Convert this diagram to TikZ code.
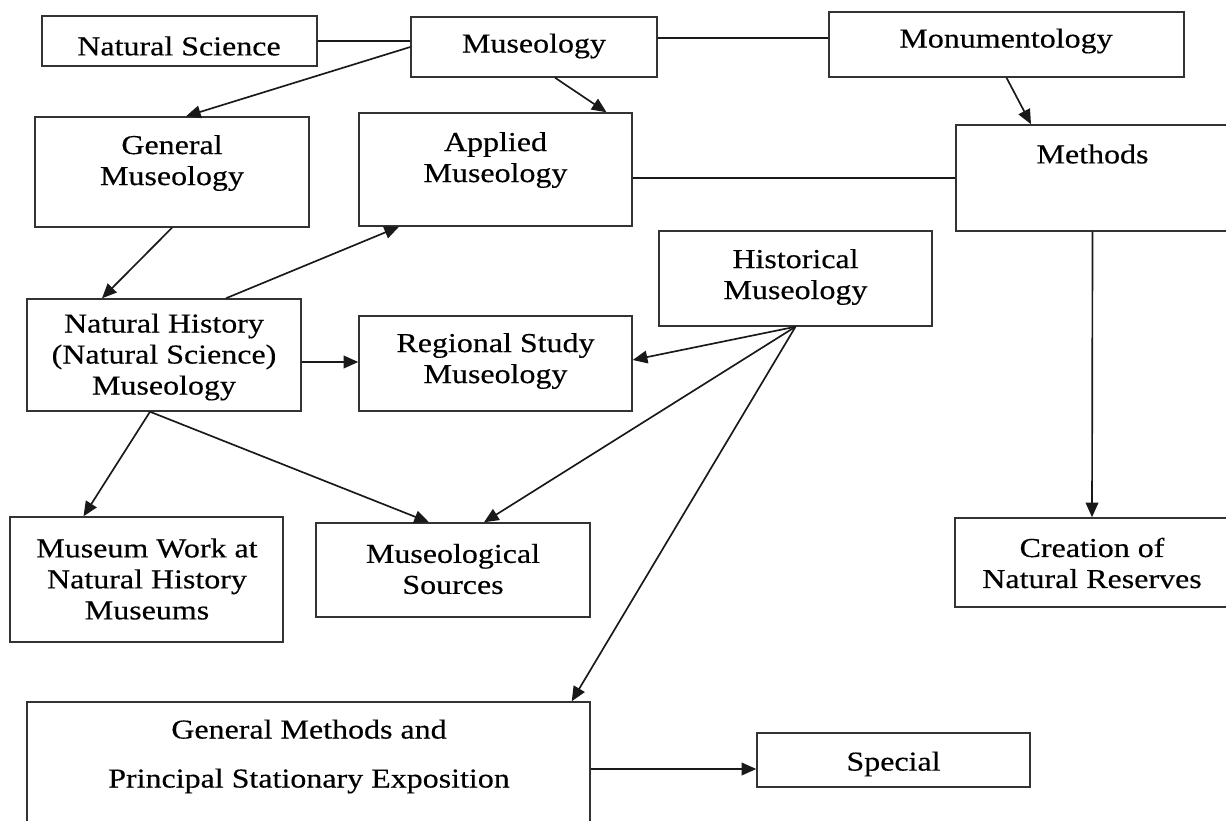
\documentclass[tikz,border=0pt]{standalone}
\usepackage{fontspec}
\setmainfont[FakeStretch=1.17,FakeBold=0.4]{Liberation Serif}
\usetikzlibrary{arrows.meta,calc,fit}
\begin{document}
\begin{tikzpicture}[x=0.75pt,y=-0.75pt,
  box/.style={draw=black!80,line width=1.1pt,inner sep=0pt},
  lbl/.style={align=center,font=\fontsize{20.5pt}{23.25pt}\selectfont,inner sep=0pt},
  conn/.style={line width=1.25pt,draw=black!90},
  arr/.style={conn,-{Triangle[length=11pt,width=9.5pt]}}]
\useasboundingbox (0,0) rectangle (1226,820);
% boxes
\node[box,fit={(42,16) (317,66)}] (ns) {};
\node[box,fit={(411,17) (657,77)}] (mus) {};
\node[box,fit={(829,12) (1184,77)}] (mon) {};
\node[box,fit={(35,117) (309,227)}] (gm) {};
\node[box,fit={(359,113) (632,226)}] (app) {};
\node[box,fit={(956,125) (1229,231)}] (meth) {};
\node[box,fit={(659,231) (932,326)}] (hist) {};
\node[box,fit={(27,299) (301,411)}] (nh) {};
\node[box,fit={(359,316) (632,411)}] (reg) {};
\node[box,fit={(10,517) (283,642)}] (mw) {};
\node[box,fit={(316,523) (590,617)}] (src) {};
\node[box,fit={(955,518) (1229,607)}] (cre) {};
\node[box,fit={(27,702) (590,824)}] (gmeth) {};
\node[box,fit={(757,733) (1030,787)}] (spec) {};
% labels
\node[lbl] (tns) at (179,46) {Natural Science};
\node[lbl] (tmus) at (534,46) {Museology};
\node[lbl] (tmon) at (1006,41) {Monumentology};
\node[lbl] (tgm) at (172,163) {General\\Museology};
\node[lbl] (tapp) at (495.5,160) {Applied\\Museology};
\node[lbl] (tmeth) at (1092.5,154) {Methods};
\node[lbl] (thist) at (795.5,277) {Historical\\Museology};
\node[lbl] (tnh) at (164,357) {Natural History\\(Natural Science)\\Museology};
\node[lbl] (treg) at (495.5,361) {Regional Study\\Museology};
\node[lbl] (tmw) at (147,579) {Museum Work at\\Natural History\\Museums};
\node[lbl] (tsrc) at (453,569) {Museological\\Sources};
\node[lbl] (tcre) at (1092,563) {Creation of\\Natural Reserves};
\node[lbl,font=\fontsize{20.5pt}{36.75pt}\selectfont] (tgmeth) at (309,756.5) {General Methods and\\Principal Stationary Exposition};
\node[lbl] (tspec) at (893.5,764) {Special};
% helper coordinates on box edges
\coordinate (musE) at ($(mus.east)+(0,-9)$);
\coordinate (appE) at ($(app.east)+(0,8.5)$);
\coordinate (nhE) at ($(nh.east)+(0,7)$);
\coordinate (gmethE) at ($(gmeth.east)+(0,6)$);
% plain connectors
\draw[conn] (ns.east) -- (ns.east -| mus.west);
\draw[conn] (musE) -- (musE -| mon.west);
\draw[conn] (appE) -- (appE -| meth.west);
% arrows
\draw[arr] (mus.west) -- ($(gm.north)+(14,0)$);
\draw[arr] ($(mus.south)+(21,0)$) -- ($(app.north)+(111,0)$);
\draw[arr] (mon.south) -- ($(meth.north)+(-61.5,0)$);
\draw[arr] (meth.south) -- (cre.north);
\draw[arr] (gm.south) -- ($(nh.north)+(-62,0)$);
\draw[arr] ($(nh.north)+(62,0)$) -- ($(app.south)+(-96.5,0)$);
\draw[arr] (nhE) -- (nhE -| reg.west);
\draw[arr] (hist.south) -- ($(reg.east)+(0,-3.5)$);
\draw[arr] (hist.south) -- ($(src.north)+(31,0)$);
\draw[arr] (hist.south) -- ($(gmeth.north east)+(-19,0)$);
\draw[arr] ($(nh.south)+(-14,0)$) -- ($(mw.north)+(-63,0)$);
\draw[arr] ($(nh.south)+(-14,0)$) -- ($(src.north)+(-24,0)$);
\draw[arr] (gmethE) -- (gmethE -| spec.west);
\end{tikzpicture}
\end{document}
